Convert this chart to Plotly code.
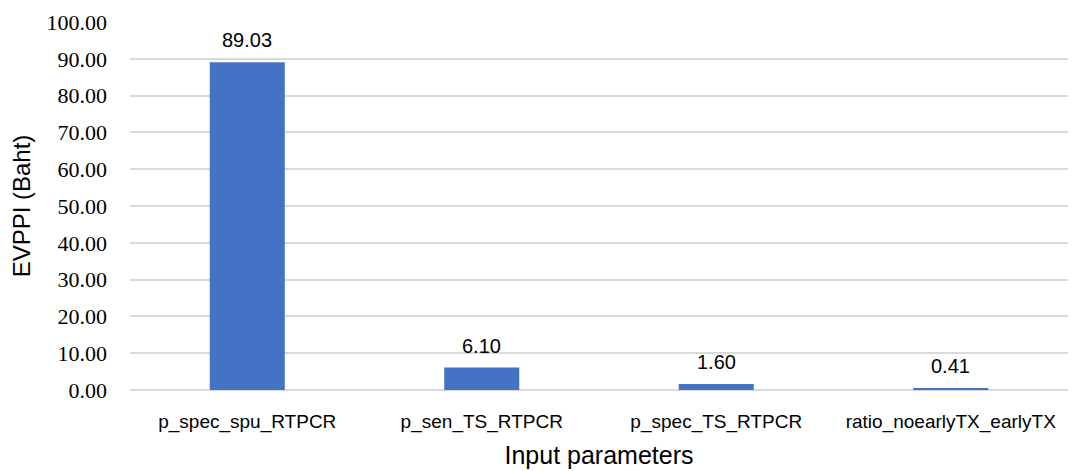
import plotly.graph_objects as go

categories = ["p_spec_spu_RTPCR", "p_sen_TS_RTPCR", "p_spec_TS_RTPCR", "ratio_noearlyTX_earlyTX"]
values = [89.03, 6.10, 1.60, 0.41]
tick_vals = [0, 10, 20, 30, 40, 50, 60, 70, 80, 90, 100]
tick_text = [f"{v:.2f}" for v in tick_vals]
bar_labels = [f"{v:.2f}" for v in values]

fig = go.Figure(go.Bar(
    x=categories, y=values,
    marker=dict(color="#4472C4", line=dict(width=0)),
))

for c, v, t in zip(categories, values, bar_labels):
    fig.add_annotation(x=c, y=v, text=t, showarrow=False, yanchor="bottom", yshift=9,
                       font=dict(family="Liberation Sans", size=20, color="#000000"))

# page body has an 8px margin; margins are offset to compensate
fig.update_layout(
    width=1080, height=471,
    margin=dict(l=122, r=20, t=14, b=89),
    paper_bgcolor="white", plot_bgcolor="white",
    bargap=0.68,
    showlegend=False,
    xaxis=dict(
        automargin=False,
        tickfont=dict(family="Liberation Sans", size=19, color="#000000"),
        showgrid=False, showline=False, ticks="",
        ticklabelstandoff=18,
        title=dict(text="Input parameters", font=dict(family="Liberation Sans", size=25, color="#000000"), standoff=14),
    ),
    yaxis=dict(
        automargin=False,
        range=[0, 100], tickvals=tick_vals, ticktext=tick_text,
        tickfont=dict(family="Liberation Serif", size=22, color="#000000"),
        showgrid=True, gridcolor="#D9D9D9", gridwidth=1.5,
        zeroline=True, zerolinecolor="#D9D9D9", zerolinewidth=1.5,
        showline=False, ticks="",
        ticklabelstandoff=22,
        title=dict(text="EVPPI (Baht)", font=dict(family="Liberation Sans", size=24, color="#000000"), standoff=14),
    ),
)

fig.write_html("out.html")
